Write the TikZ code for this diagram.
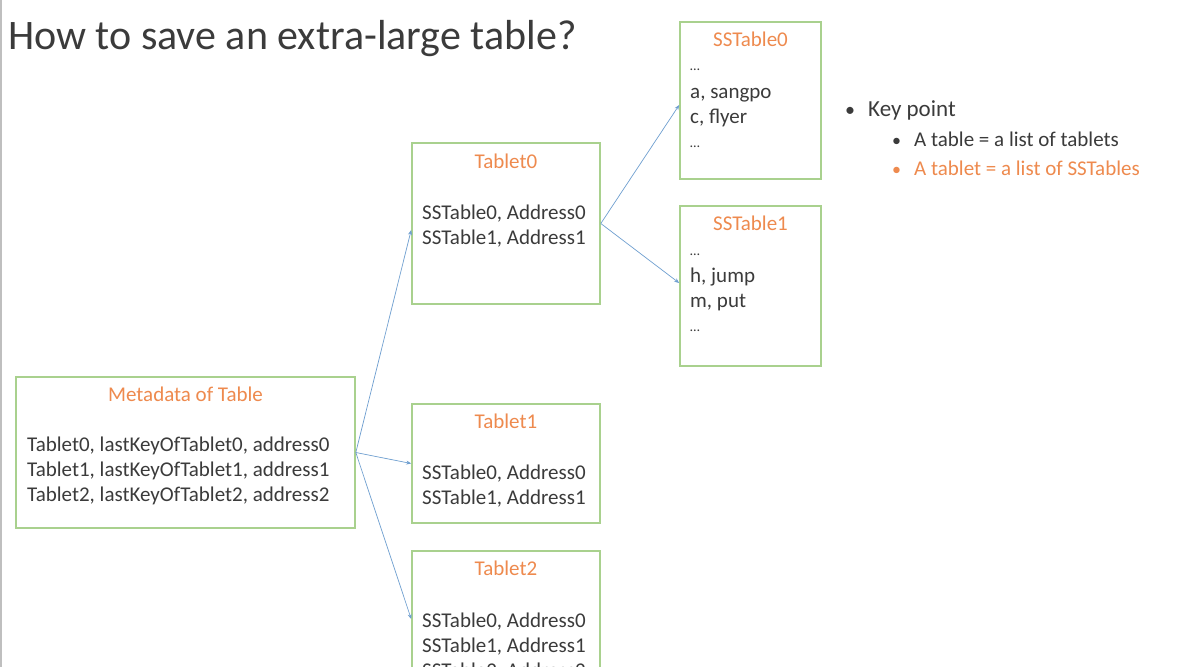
\documentclass[tikz,border=0pt]{standalone}
\usepackage{fontspec}
\setmainfont{Carlito}
\usetikzlibrary{arrows.meta,calc}
\definecolor{boxgreen}{HTML}{A9D18E}
\definecolor{txt}{HTML}{3B3B3B}
\definecolor{orng}{HTML}{EE8A4E}
\definecolor{arrblue}{HTML}{6F9FD0}
\tikzset{
  box/.style={draw=boxgreen, line width=1.6pt, fill=white, inner sep=0pt},
  lbl/.style={anchor=base west, inner sep=0pt, text=txt, font=\fontsize{21}{24}\selectfont},
  ttl/.style={anchor=base, inner sep=0pt, text=orng, font=\fontsize{21}{24}\selectfont},
  dots/.style={lbl, font=\fontsize{14}{16}\selectfont},
  conn/.style={draw=arrblue, line width=0.7pt, -{Stealth[length=5pt,width=4pt]}}
}
\begin{document}
\begin{tikzpicture}[x=1pt,y=-1pt]
\useasboundingbox[fill=white] (0,0) rectangle (1195,667);
\draw[gray!50, line width=1.2pt] (1,0) -- (1,667);
\node[anchor=base west, inner sep=0pt, text=txt, font=\fontsize{42}{48}\selectfont] (title) at (8,49) {How to save an extra-large table?};
% boxes
\node[box, minimum width=339pt, minimum height=151pt] (meta) at (185.5,452.5) {};
\node[box, minimum width=188pt, minimum height=161pt] (t0) at (506,223.5) {};
\node[box, minimum width=188pt, minimum height=119pt] (t1) at (506,463.5) {};
\node[box, minimum width=188pt, minimum height=161pt] (t2) at (506,631.5) {};
\node[box, minimum width=141pt, minimum height=157pt] (s0) at (750.5,100.5) {};
\node[box, minimum width=141pt, minimum height=160pt] (s1) at (750.5,286) {};
% metadata text
\node[ttl] (mt) at (185.5,401) {Metadata of Table};
\node[lbl] (m1) at (27,451) {Tablet0, lastKeyOfTablet0, address0};
\node[lbl] (m2) at (27,476) {Tablet1, lastKeyOfTablet1, address1};
\node[lbl] (m3) at (27,501) {Tablet2, lastKeyOfTablet2, address2};
% tablet0
\node[ttl] (t0t) at (506,168) {Tablet0};
\node[lbl] (t0a) at (422,219) {SSTable0, Address0};
\node[lbl] (t0b) at (422,244) {SSTable1, Address1};
% tablet1
\node[ttl] (t1t) at (506,428) {Tablet1};
\node[lbl] (t1a) at (422,479) {SSTable0, Address0};
\node[lbl] (t1b) at (422,504) {SSTable1, Address1};
% tablet2
\node[ttl] (t2t) at (506,575) {Tablet2};
\node[lbl] (t2a) at (422,627) {SSTable0, Address0};
\node[lbl] (t2b) at (422,652) {SSTable1, Address1};
\node[lbl] (t2c) at (422,677) {SSTable2, Address2};
% sstable0
\node[ttl] (s0t) at (750.5,46) {SSTable0};
\node[dots] (s0a) at (690,70) {…};
\node[lbl] (s0b) at (690,98) {a, sangpo};
\node[lbl] (s0c) at (690,123) {c, flyer};
\node[dots] (s0d) at (690,147) {…};
% sstable1
\node[ttl] (s1t) at (750.5,230) {SSTable1};
\node[dots] (s1a) at (690,255) {…};
\node[lbl] (s1b) at (690,282) {h, jump};
\node[lbl] (s1c) at (690,307) {m, put};
\node[dots] (s1d) at (690,331) {…};
% key points
\node[lbl, font=\fontsize{20}{22}\selectfont] (kb) at (845,116) {•};
\node[lbl, font=\fontsize{23}{26}\selectfont] (kp) at (868,116) {Key point};
\node[lbl, font=\fontsize{18}{20}\selectfont] (k1b) at (892,146) {•};
\node[lbl, font=\fontsize{21}{24}\selectfont] (k1) at (914,146) {A table = a list of tablets};
\node[lbl, font=\fontsize{18}{20}\selectfont, text=orng] (k2b) at (892,175) {•};
\node[lbl, font=\fontsize{21}{24}\selectfont, text=orng] (k2) at (914,175) {A tablet = a list of SSTables};
% connectors
\draw[conn] (meta.east) -- ($(t0.west)+(0,6.5)$);
\draw[conn] (meta.east) -- (t1.west);
\draw[conn] (meta.east) -- ($(t2.west)+(0,-12.5)$);
\draw[conn] (t0.east) -- ($(s0.west)+(0,4.5)$);
\draw[conn] (t0.east) -- ($(s1.west)+(0,-3)$);
\end{tikzpicture}
\end{document}
